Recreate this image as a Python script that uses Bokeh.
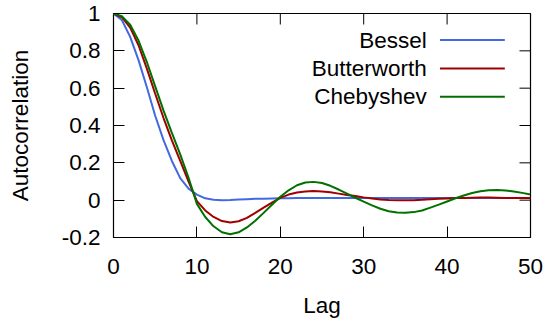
import math
from bokeh.plotting import figure
from bokeh.models import Range1d, FixedTicker, Label
from bokeh.embed import file_html
from bokeh.resources import INLINE

# ---- data ----
lags = list(range(0, 51))

bessel = [1.0, 0.965, 0.875, 0.75, 0.605, 0.452, 0.322, 0.21, 0.118, 0.062,
          0.030, 0.010, 0.002, 0.0, 0.001, 0.003, 0.005, 0.007, 0.008, 0.009,
          0.010, 0.010, 0.011, 0.011, 0.011, 0.011, 0.011, 0.011, 0.011, 0.011,
          0.011, 0.011, 0.011, 0.011, 0.011, 0.011, 0.011, 0.011, 0.011, 0.011,
          0.011, 0.011, 0.011, 0.011, 0.011, 0.011, 0.011, 0.011, 0.011, 0.011,
          0.011]

butterworth = [1.0, 0.98, 0.925, 0.83, 0.705, 0.57, 0.44, 0.32, 0.21, 0.10,
               -0.005, -0.055, -0.09, -0.112, -0.12, -0.113, -0.095, -0.068, -0.040, -0.013,
               0.012, 0.030, 0.041, 0.047, 0.049, 0.047, 0.042, 0.035, 0.028, 0.022,
               0.015, 0.009, 0.004, 0.001, -0.001, -0.001, 0.0, 0.002, 0.005, 0.007,
               0.009, 0.011, 0.012, 0.013, 0.014, 0.014, 0.013, 0.012, 0.012, 0.011,
               0.011]

chebyshev = [1.0, 0.985, 0.94, 0.855, 0.74, 0.61, 0.48, 0.36, 0.245, 0.12,
             -0.02, -0.09, -0.14, -0.172, -0.183, -0.172, -0.146, -0.11, -0.068, -0.025,
             0.018, 0.053, 0.080, 0.095, 0.098, 0.092, 0.077, 0.057, 0.035, 0.013,
             -0.008, -0.028, -0.046, -0.059, -0.066, -0.068, -0.064, -0.055, -0.040, -0.024,
             -0.007, 0.010, 0.025, 0.038, 0.048, 0.053, 0.055, 0.052, 0.047, 0.039,
             0.030]

series_names = ["Bessel", "Butterworth", "Chebyshev"]
series_colors = ["#4169e1", "#a00000", "#007000"]

x_ticks = [0, 10, 20, 30, 40, 50]
x_tick_labels = ["0", "10", "20", "30", "40", "50"]
y_ticks = [-0.2, 0.0, 0.2, 0.4, 0.6, 0.8, 1.0]
y_tick_labels = ["-0.2", "0", "0.2", "0.4", "0.6", "0.8", "1"]

X_MIN, X_MAX = 0, 50
Y_MIN, Y_MAX = -0.2, 1.0

FONT = "Liberation Sans"
FS = "22.5px"
TICK_LEN = 11

p = figure(width=545, height=325, output_backend="svg", toolbar_location=None,
           x_range=Range1d(X_MIN, X_MAX), y_range=Range1d(Y_MIN, Y_MAX),
           min_border_left=113, min_border_right=15, min_border_top=13,
           min_border_bottom=88, x_axis_label="Lag", y_axis_label="Autocorrelation")
p.grid.visible = False
p.outline_line_color = "black"
p.outline_line_width = 1.2
p.background_fill_color = "white"
p.border_fill_color = "white"

def style_axis(ax, ticks, labels):
    ax.ticker = FixedTicker(ticks=ticks)
    ax.major_label_overrides = {t: l for t, l in zip(ticks, labels)}
    ax.major_tick_in = TICK_LEN
    ax.major_tick_out = 0
    ax.minor_tick_in = 0
    ax.minor_tick_out = 0
    ax.major_tick_line_color = "black"
    ax.major_tick_line_width = 1
    ax.axis_line_color = None
    ax.major_label_text_font = FONT
    ax.major_label_text_font_size = FS
    ax.major_label_text_color = "black"
    ax.axis_label_text_font = FONT
    ax.axis_label_text_font_size = FS
    ax.axis_label_text_font_style = "normal"
    ax.axis_label_text_color = "black"

style_axis(p.xaxis[0], x_ticks, x_tick_labels)
style_axis(p.yaxis[0], y_ticks, y_tick_labels)
p.xaxis[0].major_label_standoff = 21
p.xaxis[0].axis_label_standoff = 16
p.yaxis[0].major_label_standoff = 13
p.yaxis[0].axis_label_standoff = 26

# mirrored ticks on top and right edges (gnuplot style)
p.ray(x=x_ticks, y=[Y_MAX] * len(x_ticks), length=TICK_LEN, length_units="screen",
      angle=-math.pi / 2, line_color="black", line_width=1)
p.ray(x=[X_MAX] * len(y_ticks), y=y_ticks, length=TICK_LEN, length_units="screen",
      angle=math.pi, line_color="black", line_width=1)

for vals, col in zip([bessel, butterworth, chebyshev], series_colors):
    p.line(lags, vals, line_color=col, line_width=2)

# legend (text on left, sample line on right, as in gnuplot)
leg_text_x = 37.56
leg_line_x0, leg_line_x1 = 39.15, 46.92
leg_rows_y = [0.858, 0.706, 0.554]
for name, col, yy in zip(series_names, series_colors, leg_rows_y):
    p.add_layout(Label(x=leg_text_x, y=yy, text=name, text_align="right",
                       text_baseline="middle", text_font=FONT,
                       text_font_size=FS, text_color="black"))
    p.line([leg_line_x0, leg_line_x1], [yy, yy], line_color=col, line_width=2)

open("out.html", "w").write(file_html(p, INLINE))
